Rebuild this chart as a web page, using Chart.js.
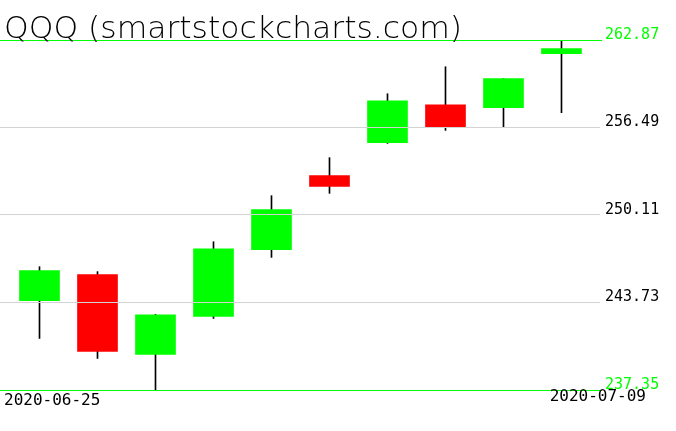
<!DOCTYPE html>
<html>
<head>
<meta charset="utf-8">
<script src="https://cdn.jsdelivr.net/npm/chart.js@4"></script>
<style>
  html, body { margin: 0; padding: 0; background: #fff; }
  #wrap { width: 676px; height: 431px; position: relative; }
</style>
</head>
<body>
<div id="wrap"><canvas id="chart"></canvas></div>
<script>
// Data (QQQ daily candles)
const dates = ['2020-06-25', '2020-06-26', '2020-06-29', '2020-06-30', '2020-07-01',
               '2020-07-02', '2020-07-06', '2020-07-07', '2020-07-08', '2020-07-09'];
const opens  = [243.86, 245.76, 239.95, 242.72, 247.58, 252.98, 255.38, 258.15, 257.93, 261.87];
const highs  = [246.34, 245.98, 242.87, 248.16, 251.52, 254.29, 258.95, 260.92, 260.05, 262.87];
const lows   = [241.11, 239.65, 237.35, 242.57, 247.02, 251.69, 255.33, 256.28, 256.48, 257.57];
const closes = [246.05, 240.16, 242.84, 247.65, 250.50, 252.20, 258.44, 256.55, 260.05, 262.24];
const yTicks = [237.35, 243.73, 250.11, 256.49, 262.87];
const title = 'QQQ (smartstockcharts.com)';

const UP = '#00ff00';
const DOWN = '#ff0000';

const idx = dates.map((d, i) => i);
const bodies = idx.map(i => ({ x: i, y: [opens[i], closes[i]] }));
const wicks = idx.map(i => ({ x: i, y: [lows[i], highs[i]] }));
const bodyColors = idx.map(i => closes[i] >= opens[i] ? UP : DOWN);

const isEdge = i => i === 0 || i === yTicks.length - 1;

// green min/max lines, title and first/last date
const overlayText = {
  id: 'overlayText',
  afterDraw(chart) {
    const ctx = chart.ctx;
    const area = chart.chartArea;
    const ys = chart.scales.y;

    ctx.save();
    ctx.strokeStyle = UP;
    ctx.lineWidth = 1;
    [yTicks[0], yTicks[yTicks.length - 1]].forEach(v => {
      const py = Math.round(ys.getPixelForValue(v)) + 0.5;
      ctx.beginPath();
      ctx.moveTo(area.left, py);
      ctx.lineTo(area.right + 2, py);
      ctx.stroke();
    });
    ctx.restore();

    ctx.save();
    ctx.fillStyle = '#000';
    ctx.textBaseline = 'alphabetic';
    ctx.font = '200 30px "DejaVu Sans"';
    const w = ctx.measureText(title).width;
    ctx.translate(4, 38);
    ctx.scale(458 / w, 1);
    ctx.fillText(title, 0, 0);
    ctx.restore();

    ctx.save();
    ctx.fillStyle = '#000';
    ctx.font = '16px "DejaVu Sans Mono"';
    ctx.textBaseline = 'alphabetic';
    ctx.textAlign = 'left';
    ctx.fillText(dates[0], 4, 405);
    ctx.textAlign = 'right';
    ctx.fillText(dates[dates.length - 1], 646, 401);
    ctx.restore();
  }
};

new Chart(document.getElementById('chart'), {
  type: 'bar',
  data: {
    datasets: [
      {
        label: 'body',
        data: bodies,
        backgroundColor: bodyColors,
        borderWidth: 0,
        barThickness: 40,
        grouped: false,
        order: 0
      },
      {
        label: 'wick',
        data: wicks,
        backgroundColor: '#000',
        borderWidth: 0,
        barThickness: 1,
        grouped: false,
        order: 1
      }
    ]
  },
  options: {
    responsive: true,
    maintainAspectRatio: false,
    animation: false,
    layout: { padding: { top: 40, bottom: 41, left: 0, right: 0 } },
    plugins: {
      legend: { display: false },
      tooltip: { enabled: false }
    },
    scales: {
      x: {
        type: 'linear',
        display: false,
        offset: false,
        min: -0.681,
        max: 9.664
      },
      y: {
        position: 'right',
        min: yTicks[0],
        max: yTicks[yTicks.length - 1],
        afterBuildTicks(scale) {
          scale.ticks = yTicks.map(v => ({ value: v }));
        },
        afterFit(scale) {
          scale.width = 76;
        },
        border: { display: false },
        grid: {
          z: 1,
          drawTicks: false,
          lineWidth: 1,
          // edge lines are drawn green by the plugin
          color: ctx => isEdge(ctx.index) ? 'rgba(0,0,0,0)' : '#d3d3d3'
        },
        ticks: {
          padding: 5,
          labelOffset: -5,
          font: { family: '"DejaVu Sans Mono"', size: 15 },
          color: ctx => isEdge(ctx.index) ? UP : '#000',
          callback: v => v.toFixed(2)
        }
      }
    }
  },
  plugins: [overlayText]
});
</script>
</body>
</html>
